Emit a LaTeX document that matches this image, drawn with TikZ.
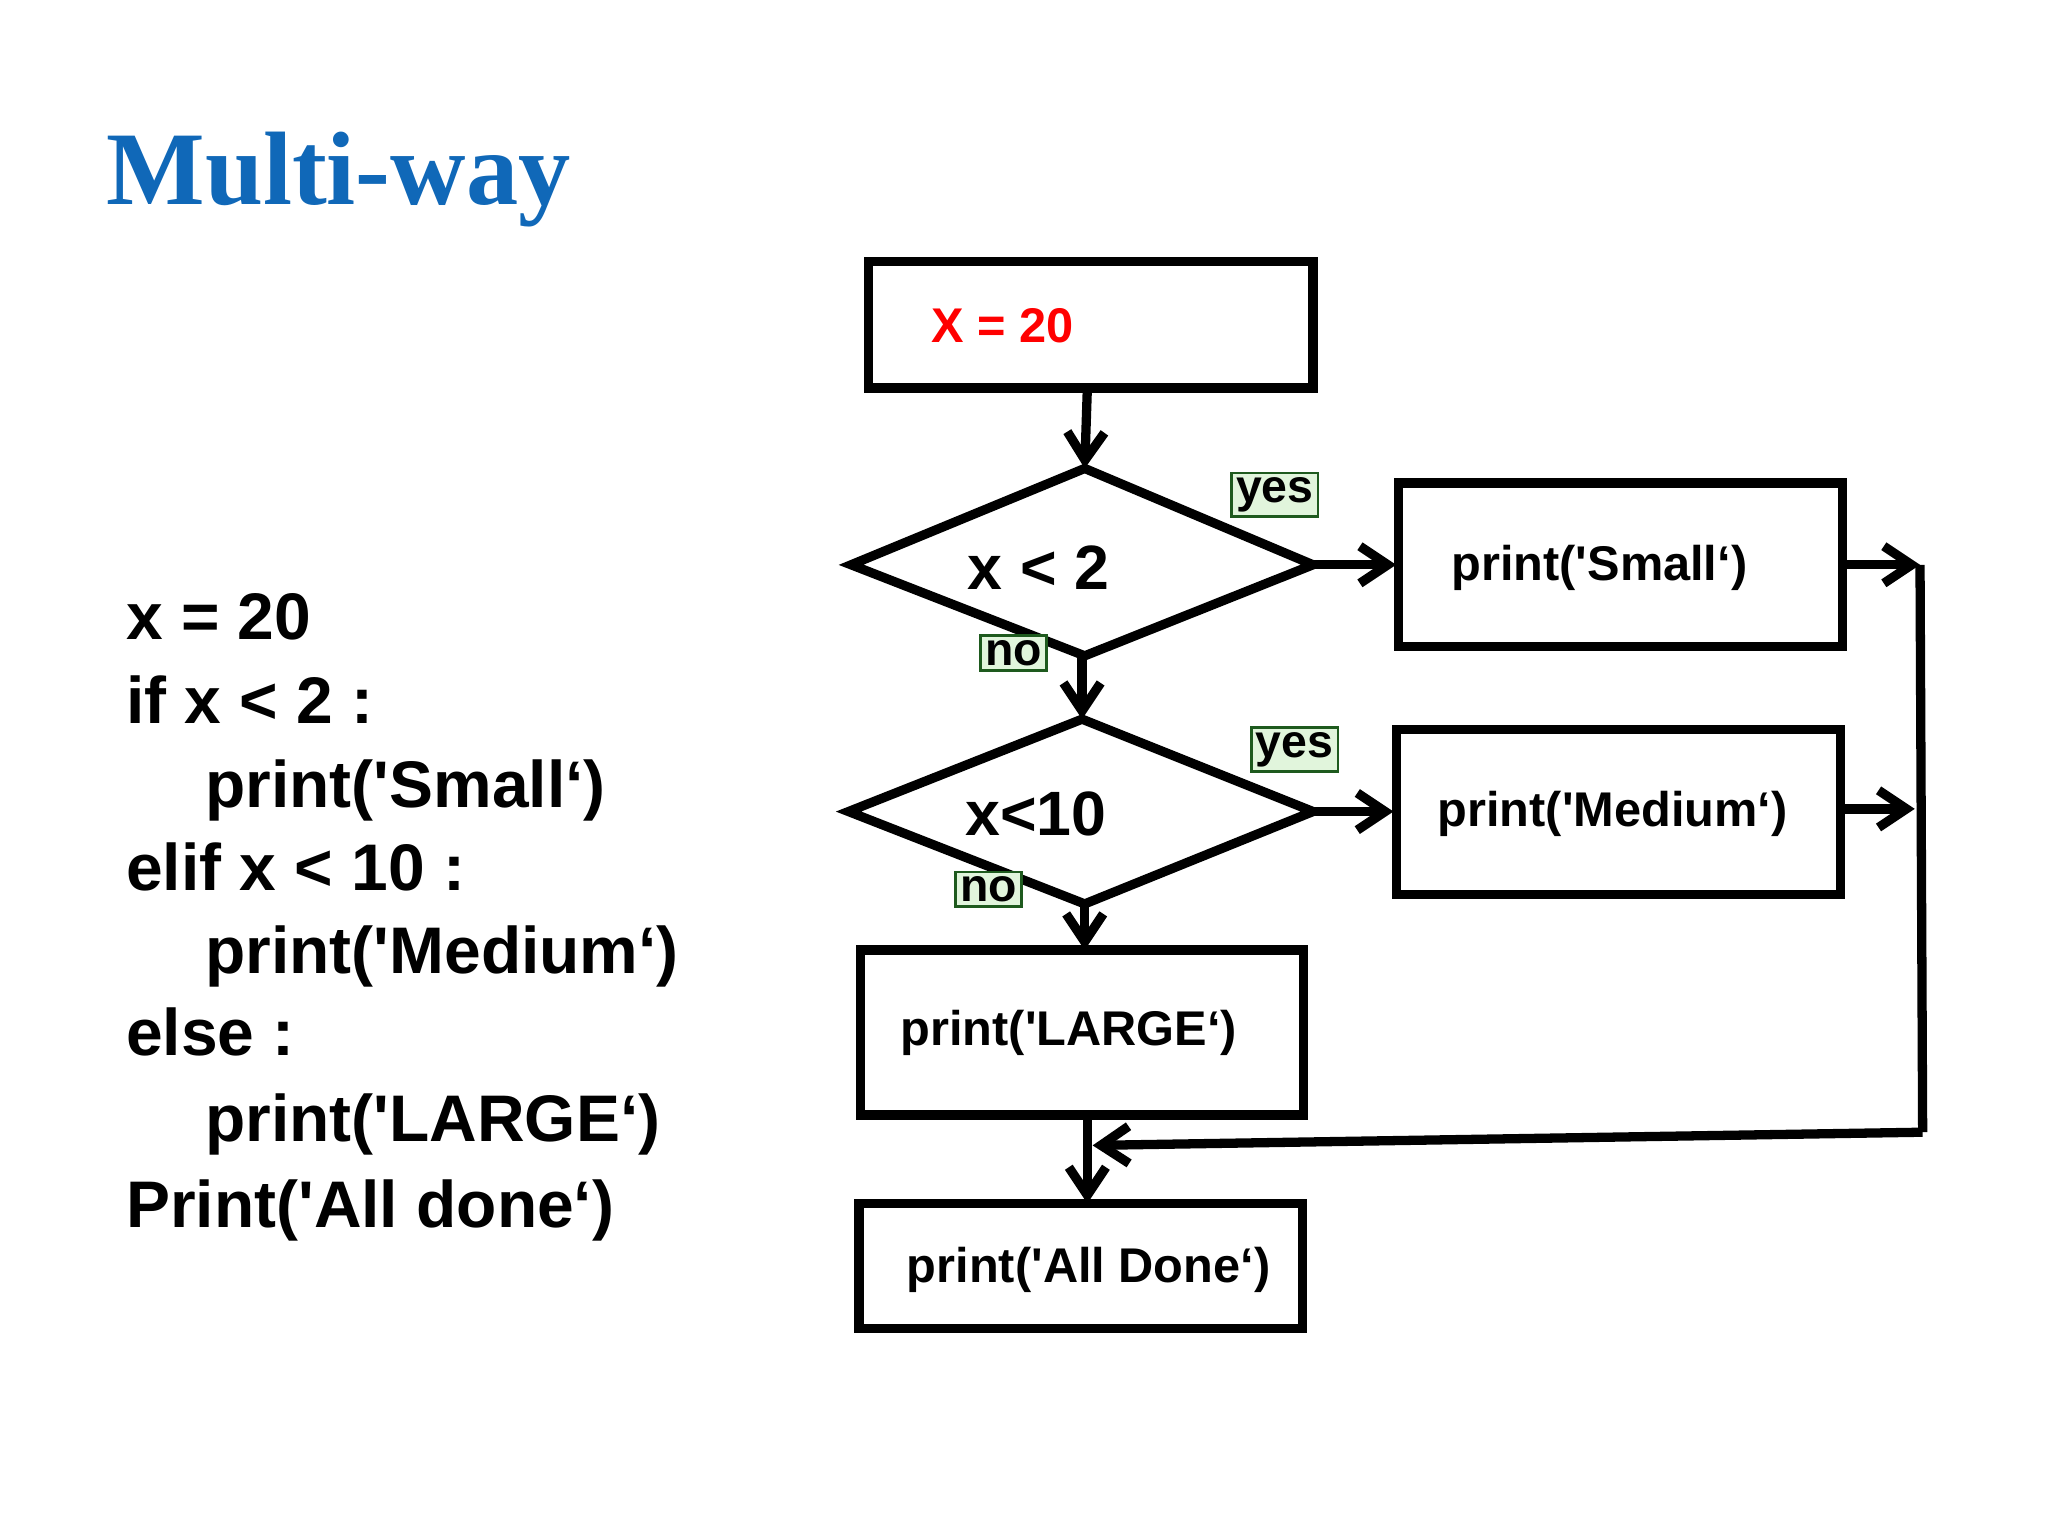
\documentclass[tikz,border=0pt]{standalone}
\usepackage{fontspec}
\setmainfont{Liberation Sans}
\newfontfamily\qfont{Liberation Sans}[Ligatures=TeXOff]
\newfontfamily\titlefont{Liberation Serif}
\usetikzlibrary{arrows.meta}
\newcommand\sq{{\qfont\char"27\relax}}
\definecolor{ttl}{RGB}{16,104,184}
\definecolor{lblfill}{RGB}{225,245,220}
\definecolor{lbldraw}{RGB}{30,90,30}
\begin{document}
\begin{tikzpicture}[x=0.01cm,y=-0.01cm,
  blk/.style={draw=black,line width=2pt,fill=white},
  ftxt/.style={font=\bfseries\fontsize{10.5}{13}\selectfont},
  code/.style={anchor=base west,font=\bfseries\fontsize{14.2}{18}\selectfont},
  lbl/.style={draw=lbldraw,fill=lblfill,line width=0.6pt,inner sep=1pt,font=\bfseries\fontsize{10}{12}\selectfont},
  arr/.style={line width=2pt,-{Straight Barb[length=6pt,width=8pt,line width=2pt]}},
  ln/.style={line width=2pt}]
\useasboundingbox (0,0) rectangle (1552,1164);
\fill[white] (0,0) rectangle (1552,1164);
\node[anchor=base west,inner sep=0pt,text=ttl,font=\titlefont\bfseries\fontsize{22.5}{27}\selectfont] (title) at (80,155) {Multi-way};
\node[code,inner sep=0pt] (c1) at (95,485) {x = 20};
\node[code,inner sep=0pt] (c2) at (95,548) {if x < 2 :};
\node[code,inner sep=0pt] (c3) at (155,612) {print(\sq Small‘)};
\node[code,inner sep=0pt] (c4) at (95,675) {elif x < 10 :};
\node[code,inner sep=0pt] (c5) at (155,738) {print(\sq Medium‘)};
\node[code,inner sep=0pt] (c6) at (95,800) {else :};
\node[code,inner sep=0pt] (c7) at (155,865) {print(\sq LARGE‘)};
\node[code,inner sep=0pt] (c8) at (95,930) {Print(\sq All done‘)};
% boxes
\draw[blk] (658,198) rectangle (995,294);
\node[ftxt,text=red] (t0) at (760,247) {X = 20};
\coordinate (b0) at (824,294);
\draw[blk] (645,428) -- (822,355) -- (995,428) -- (822,497) -- cycle;
\coordinate (d1t) at (822,355); \coordinate (d1r) at (995,428); \coordinate (d1b) at (820,497);
\node[ftxt,font=\bfseries\fontsize{13.5}{16}\selectfont] (t1) at (787,430) {x < 2};
\draw[blk] (643,615) -- (820,545) -- (995,615) -- (822,685) -- cycle;
\coordinate (d2t) at (820,545); \coordinate (d2r) at (995,615); \coordinate (d2b) at (822,685);
\node[ftxt,font=\bfseries\fontsize{13.5}{16}\selectfont] (t2) at (785,617) {x<10};
\draw[blk] (1060,366) rectangle (1396,490);
\node[ftxt] (ts) at (1212,430) {print(\sq Small‘)};
\draw[blk] (1058,553) rectangle (1395,678);
\node[ftxt] (tm) at (1222,617) {print(\sq Medium‘)};
\draw[blk] (652,720) rectangle (988,845);
\node[ftxt] (tl) at (810,783) {print(\sq LARGE‘)};
\draw[blk] (651,912) rectangle (987,1007);
\node[ftxt] (ta) at (825,962) {print(\sq All Done‘)};
% arrows
\coordinate (sl) at (1058,428); \coordinate (ml) at (1056,615);
\coordinate (lt) at (822,720); \coordinate (lb) at (824,845); \coordinate (at) at (824,912);
\draw[arr] (b0) -- (d1t);
\draw[arr] (d1b) -- (d2t);
\draw[arr] (d1r) -- (sl);
\draw[arr] (d2r) -- (ml);
\draw[arr] (d2b) -- (lt);
\draw[arr] (lb) -- (at);
\coordinate (sr) at (1396,428); \coordinate (se) at (1455,428);
\coordinate (mr) at (1395,613); \coordinate (me) at (1451,613);
\coordinate (vt) at (1455,428); \coordinate (vb) at (1457,858); \coordinate (ret) at (828,868);
\draw[arr] (sr) -- (se);
\draw[arr] (mr) -- (me);
\draw[ln] (vt) -- (vb);
\draw[arr] (vb) -- (ret);
% labels
\node[lbl] (y1) at (966,375) {yes};
\node[lbl] (n1) at (768,495) {no};
\node[lbl] (y2) at (981,568) {yes};
\node[lbl] (n2) at (749,674) {no};
\end{tikzpicture}
\end{document}
